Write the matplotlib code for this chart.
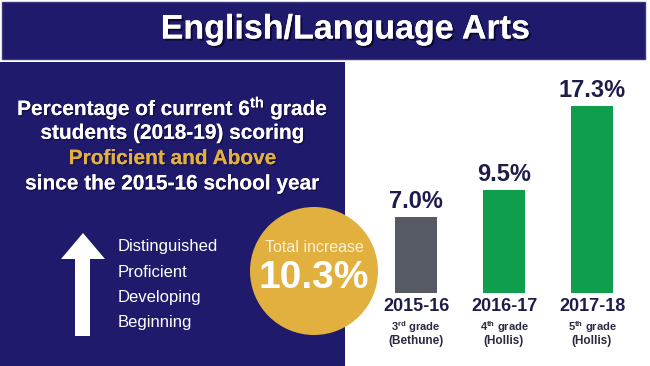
import matplotlib
matplotlib.use("Agg")
import matplotlib.pyplot as plt
import matplotlib.patheffects as pe
from matplotlib.patches import Rectangle, Circle, Polygon

# Data
years = ["2015-16", "2016-17", "2017-18"]
grades = ["3$^{\\rm rd}$ grade", "4$^{\\rm th}$ grade", "5$^{\\rm th}$ grade"]
schools = ["(Bethune)", "(Hollis)", "(Hollis)"]
values = [7.0, 9.5, 17.3]
levels = ["Distinguished", "Proficient", "Developing", "Beginning"]
total_increase = 10.3

navy = "#1f1a6b"
gold = "#e2b03f"
dark = "#1e1d4a"
bar_colors = ["#565a62", "#0f9e4b", "#0f9e4b"]

plt.rcParams["font.family"] = ["Liberation Sans", "DejaVu Sans"]
plt.rcParams["mathtext.fontset"] = "custom"
plt.rcParams["mathtext.rm"] = "Liberation Sans:bold"
plt.rcParams["mathtext.bf"] = "Liberation Sans:bold"
plt.rcParams["mathtext.it"] = "Liberation Sans:bold"

fig = plt.figure(figsize=(6.5, 3.66), dpi=100)
fig.patch.set_facecolor("white")

# background layer in pixel coordinates
bg = fig.add_axes([0, 0, 1, 1])
bg.set_xlim(0, 650)
bg.set_ylim(366, 0)
bg.axis("off")

bg.add_patch(Rectangle((2, 2), 643, 57, facecolor=navy, edgecolor="#3b3a80", lw=1))
bg.add_patch(Rectangle((0, 62), 345, 310, facecolor=navy, edgecolor="none"))

shadow = [pe.withSimplePatchShadow(offset=(1.5, -1.5), shadow_rgbFace="#0a0830", alpha=0.9), pe.Normal()]
bg.text(345, 30, "English/Language Arts", color="white", fontsize=24.5, fontweight="bold",
        ha="center", va="center", path_effects=shadow)

light_shadow = [pe.withSimplePatchShadow(offset=(1, -1), shadow_rgbFace="#0a0830", alpha=0.6), pe.Normal()]
lines = [("Percentage of current 6$^{\\rm th}$ grade", "white"),
         ("students (2018-19) scoring", "white"),
         ("Proficient and Above", gold),
         ("since the 2015-16 school year", "white")]
for k, (txt, col) in enumerate(lines):
    bg.text(173, 108 + k * 25.3, txt, color=col, fontsize=15, fontweight="bold",
            ha="center", va="center", path_effects=light_shadow)

# arrow
bg.add_patch(Polygon([(83, 233), (105, 259), (90, 259), (90, 336), (75, 336), (75, 259), (61, 259)],
                     closed=True, facecolor="white", edgecolor="none"))
for k, lab in enumerate(levels):
    bg.text(118, 247 + k * 25.3, lab, color="white", fontsize=12, ha="left", va="center")

# total increase circle
bg.add_patch(Circle((314, 271), 64, facecolor=gold, edgecolor="none"))
bg.text(314, 247, "Total increase", color="#fbf0d6", fontsize=11.5, ha="center", va="center")
bg.text(314, 278, f"{total_increase:.1f}%", color="white", fontsize=28, fontweight="bold",
        ha="center", va="center")

# bar chart
ax = fig.add_axes([372 / 650, (366 - 293) / 366, 264 / 650, 216 / 366])
ax.patch.set_alpha(0)
x = list(range(len(values)))
ax.bar(x, values, width=0.466, color=bar_colors)
ax.set_xlim(-0.5, 2.5)
ax.set_ylim(0, 20)
ax.axis("off")
for i, v in enumerate(values):
    ax.annotate(f"{v:.1f}%", (i, v), xytext=(0, 3), textcoords="offset points",
                ha="center", va="bottom", fontsize=17, fontweight="bold", color=dark)
    ax.annotate(years[i], (i, 0), xytext=(0, -10), textcoords="offset points",
                ha="center", va="center", fontsize=13, fontweight="bold", color=dark)
    ax.annotate(grades[i], (i, 0), xytext=(0, -24.5), textcoords="offset points",
                ha="center", va="center", fontsize=8, fontweight="bold", color="#2a2a40")
    ax.annotate(schools[i], (i, 0), xytext=(0, -34.5), textcoords="offset points",
                ha="center", va="center", fontsize=8.5, fontweight="bold", color="#2a2a40")

fig.savefig("out.png", dpi=100)
